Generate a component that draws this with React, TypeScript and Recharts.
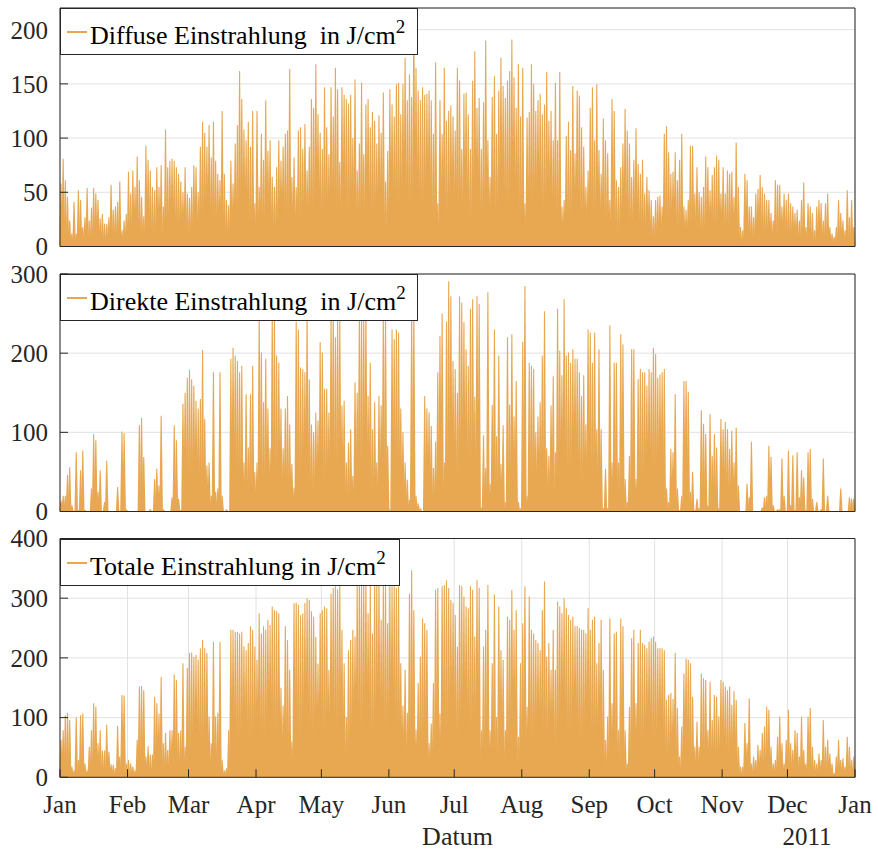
import { BarChart, Bar, XAxis, YAxis, CartesianGrid, Legend } from 'recharts'

// ─── data (daily peak of the hourly values, J/cm², 2011) ──────────────

const MONTH_STARTS = [0, 31, 59, 90, 120, 151, 181, 212, 243, 273, 304, 334, 365]
const MONTH_LABELS = ['Jan', 'Feb', 'Mar', 'Apr', 'May', 'Jun', 'Jul', 'Aug', 'Sep', 'Oct', 'Nov', 'Dec', 'Jan']

const DIFFUSE = [
  58, 81, 61, 46, 24, 12, 41, 12, 52, 43, 18, 27, 54, 24, 36, 54, 49, 43, 26, 30, 21, 21, 27, 57, 34, 37, 41, 60, 15, 24, 30,
  69, 49, 70, 55, 83, 61, 46, 28, 93, 80, 70, 55, 52, 73, 55, 75, 37, 108, 73, 79, 81, 79, 73, 67, 60, 50, 73, 49,
  45, 55, 75, 73, 50, 92, 115, 105, 92, 112, 82, 115, 79, 67, 61, 125, 67, 43, 38, 79, 58, 95, 112, 162, 136, 108, 98, 115, 92, 125, 40,
  125, 55, 104, 80, 135, 88, 98, 64, 55, 73, 98, 79, 92, 104, 107, 164, 64, 82, 55, 107, 110, 90, 113, 70, 92, 136, 128, 168, 122, 105,
  90, 147, 110, 85, 147, 120, 165, 145, 78, 147, 140, 136, 132, 140, 100, 154, 70, 95, 151, 85, 131, 136, 110, 124, 116, 95, 121, 105, 142, 60, 88,
  145, 131, 120, 150, 151, 122, 150, 174, 135, 159, 138, 220, 165, 144, 135, 147, 140, 141, 144, 135, 104, 170, 40, 135, 104, 165, 116, 125, 130, 120,
  107, 165, 153, 90, 141, 142, 122, 90, 153, 180, 128, 137, 90, 133, 190, 98, 64, 138, 157, 104, 144, 174, 148, 137, 153, 162, 191, 156, 128, 168, 120,
  165, 40, 119, 124, 168, 150, 125, 135, 141, 122, 131, 161, 116, 125, 98, 151, 98, 161, 37, 43, 102, 115, 89, 148, 86, 144, 139, 110, 92, 55, 70,
  128, 147, 98, 150, 89, 67, 118, 98, 86, 43, 136, 125, 61, 55, 73, 95, 127, 107, 95, 64, 80, 109, 76, 67, 80, 49, 64, 52, 43, 28,
  43, 46, 47, 37, 104, 111, 87, 67, 69, 87, 61, 80, 104, 37, 34, 43, 93, 93, 49, 73, 50, 46, 55, 83, 73, 52, 66, 73, 84, 80, 49,
  73, 49, 70, 67, 69, 46, 96, 55, 18, 15, 67, 61, 37, 37, 27, 49, 53, 66, 55, 49, 43, 43, 31, 24, 61, 57, 57, 37, 49, 43,
  49, 40, 37, 31, 34, 24, 43, 59, 18, 40, 37, 31, 15, 37, 43, 40, 24, 40, 49, 18, 12, 9, 18, 43, 31, 24, 15, 52, 27, 43, 18,
]

const DIRECT = [
  14, 20, 20, 46, 56, 8, 0, 75, 2, 52, 77, 2, 0, 0, 29, 98, 90, 25, 52, 0, 12, 64, 0, 0, 0, 0, 31, 0, 101, 99, 3,
  0, 0, 0, 0, 0, 109, 118, 69, 0, 0, 3, 0, 41, 54, 33, 121, 3, 0, 0, 0, 18, 109, 90, 16, 2, 136, 150, 169,
  179, 167, 159, 140, 130, 142, 204, 117, 58, 62, 20, 176, 25, 29, 176, 20, 0, 3, 0, 193, 207, 197, 190, 176, 184, 62, 148, 81, 148, 184, 50,
  62, 250, 201, 138, 193, 130, 80, 252, 248, 197, 188, 130, 80, 130, 146, 110, 60, 30, 240, 230, 182, 180, 176, 255, 167, 110, 100, 125, 115, 214,
  201, 155, 155, 125, 250, 258, 220, 250, 246, 134, 140, 62, 87, 104, 45, 163, 150, 255, 250, 248, 260, 146, 188, 104, 138, 62, 146, 134, 252, 250, 83,
  3, 230, 218, 230, 226, 130, 100, 62, 40, 15, 250, 255, 20, 10, 4, 0, 146, 130, 125, 108, 55, 88, 176, 222, 250, 62, 240, 291, 272, 190,
  180, 150, 272, 264, 239, 205, 184, 256, 268, 145, 272, 262, 5, 96, 55, 277, 35, 135, 230, 95, 197, 60, 109, 12, 220, 135, 224, 120, 165, 12, 4,
  214, 285, 20, 188, 184, 180, 100, 120, 138, 197, 253, 80, 70, 134, 171, 75, 256, 203, 172, 268, 197, 201, 188, 205, 193, 193, 176, 146, 172, 110, 230,
  226, 188, 226, 104, 205, 104, 4, 54, 4, 235, 62, 188, 188, 62, 224, 211, 41, 12, 70, 205, 205, 41, 167, 180, 176, 176, 159, 180, 176, 207,
  199, 169, 173, 176, 180, 29, 12, 79, 75, 148, 29, 2, 20, 165, 165, 151, 25, 50, 2, 16, 4, 128, 111, 98, 8, 123, 70, 98, 81, 4, 117,
  104, 113, 104, 79, 102, 62, 106, 33, 0, 0, 0, 35, 18, 88, 0, 0, 0, 0, 5, 18, 20, 83, 69, 8, 0, 3, 3, 67, 20, 0,
  77, 8, 71, 2, 75, 18, 52, 43, 2, 75, 79, 16, 0, 12, 0, 3, 67, 0, 20, 0, 0, 0, 0, 0, 29, 0, 0, 0, 18, 16, 16,
]

const TOTAL = [
  63, 79, 104, 108, 96, 18, 12, 100, 29, 104, 107, 23, 12, 51, 79, 124, 118, 57, 79, 45, 45, 88, 43, 22, 21, 15, 86, 35, 138, 137, 23,
  29, 23, 18, 12, 63, 152, 153, 146, 35, 52, 38, 38, 135, 124, 107, 168, 57, 74, 46, 79, 79, 172, 163, 74, 79, 191, 51, 183,
  208, 209, 202, 205, 197, 216, 230, 216, 208, 102, 57, 227, 102, 108, 227, 29, 12, 15, 79, 247, 247, 244, 244, 241, 244, 219, 213, 225, 253, 247, 219,
  197, 275, 241, 253, 247, 264, 255, 286, 280, 278, 275, 150, 120, 253, 230, 180, 60, 292, 293, 289, 272, 275, 292, 300, 297, 278, 269, 235, 190, 275,
  280, 286, 283, 180, 308, 317, 320, 315, 322, 247, 191, 101, 213, 230, 247, 236, 326, 330, 324, 328, 332, 275, 326, 241, 329, 324, 331, 264, 327, 325, 258,
  320, 320, 320, 317, 320, 191, 120, 180, 108, 308, 347, 280, 80, 158, 202, 266, 258, 247, 57, 90, 158, 314, 317, 107, 320, 322, 330, 317, 297, 292,
  272, 219, 322, 320, 303, 286, 283, 320, 314, 236, 330, 317, 79, 219, 247, 322, 79, 191, 306, 101, 286, 213, 197, 79, 269, 264, 314, 247, 280, 68, 191,
  258, 320, 118, 303, 247, 241, 230, 225, 213, 280, 328, 202, 225, 180, 247, 180, 294, 286, 275, 300, 283, 272, 264, 269, 253, 253, 250, 247, 247, 241, 283,
  247, 264, 269, 191, 225, 264, 180, 63, 102, 266, 124, 241, 244, 79, 266, 253, 79, 23, 118, 233, 247, 124, 225, 247, 225, 222, 216, 227, 233, 236,
  227, 216, 216, 216, 213, 130, 138, 141, 131, 208, 116, 35, 85, 174, 199, 197, 191, 135, 51, 93, 51, 174, 166, 163, 79, 160, 96, 138, 135, 102, 163,
  160, 152, 146, 152, 121, 144, 130, 51, 18, 18, 91, 57, 132, 23, 35, 29, 54, 46, 74, 85, 118, 113, 51, 23, 29, 68, 102, 57, 23, 63,
  113, 57, 46, 79, 74, 35, 102, 46, 23, 102, 116, 51, 29, 23, 40, 29, 96, 51, 63, 40, 23, 7, 35, 63, 29, 32, 18, 68, 51, 29, 35,
]

const DIFFUSE_TICKS = [0, 50, 100, 150, 200]
const DIRECT_TICKS = [0, 100, 200, 300]
const TOTAL_TICKS = [0, 100, 200, 300, 400]

// ─── style ────────────────────────────────────────────────────────────

const ORANGE = '#E8A852'
const AXIS = '#262626'
const GRID = '#e2e2e2'
const FONT = '"Liberation Serif", "Times New Roman", serif'

const monthLabel = (v: number) => MONTH_LABELS[MONTH_STARTS.indexOf(v)] ?? ''

// one day = one spike, wide at the foot (solid bottom), narrow at the peak
function Spike(props: any) {
  const { x, y, width, height, fill } = props
  if (!height || height <= 0) return null
  const cx = x + width / 2
  const foot = width * 0.9
  const tip = width * 0.28
  const y0 = y + height
  return <path d={`M${cx - foot},${y0}L${cx - tip},${y}L${cx + tip},${y}L${cx + foot},${y0}Z`} fill={fill} />
}

function LegendBox({ text, width }: { text: string; width: number }) {
  return (
    <div style={{
      position: 'relative', width, height: 47, boxSizing: 'border-box',
      border: `1px solid ${AXIS}`, background: '#fff', fontFamily: FONT, color: '#000',
    }}>
      <div style={{ position: 'absolute', left: 6, top: 22, width: 20, height: 2, background: ORANGE }} />
      <div style={{ position: 'absolute', left: 29, top: 14, fontSize: 26, lineHeight: '26px', whiteSpace: 'pre' }}>
        {text}<span style={{ fontSize: 19, position: 'relative', top: -11 }}>2</span>
      </div>
    </div>
  )
}

interface PanelProps {
  values: number[]
  max: number
  yTicks: number[]
  legend: string
  legendWidth: number
  top: number
  height: number
  plotTop: number
  plotBottom: number
  showX?: boolean
}

function Panel({ values, max, yTicks, legend, legendWidth, top, height, plotTop, plotBottom, showX }: PanelProps) {
  const data = values.map((v, i) => ({ day: i + 0.5, v }))
  const xAxisH = showX ? 40 : 1
  const tickFont = { fill: AXIS, fontSize: 25, fontFamily: FONT }

  return (
    <div style={{ position: 'absolute', left: 0, top }}>
      <BarChart
        width={878}
        height={height}
        data={data}
        margin={{ top: plotTop - 1, right: 22, bottom: height - plotBottom - xAxisH, left: 0 }}
        barCategoryGap={0}
      >
        <CartesianGrid stroke={GRID} strokeWidth={1} />
        <XAxis
          type="number"
          dataKey="day"
          domain={[0, 365]}
          ticks={MONTH_STARTS}
          interval={0}
          height={xAxisH}
          tickSize={-8}
          tickMargin={26}
          axisLine={{ stroke: AXIS }}
          tickLine={{ stroke: AXIS }}
          tick={showX ? tickFont : false}
          tickFormatter={monthLabel}
          label={showX ? { value: 'Datum', position: 'bottom', offset: 9, fill: AXIS, fontSize: 26, fontFamily: FONT } : undefined}
        />
        <XAxis
          xAxisId="top"
          orientation="top"
          type="number"
          domain={[0, 365]}
          ticks={MONTH_STARTS}
          interval={0}
          height={1}
          tickSize={-8}
          axisLine={{ stroke: AXIS }}
          tickLine={{ stroke: AXIS }}
          tick={false}
        />
        <YAxis
          domain={[0, max]}
          ticks={yTicks}
          interval={0}
          allowDataOverflow
          width={60}
          tickSize={-8}
          tickMargin={20}
          axisLine={{ stroke: AXIS }}
          tickLine={{ stroke: AXIS }}
          tick={tickFont}
        />
        <YAxis
          yAxisId="right"
          orientation="right"
          domain={[0, max]}
          ticks={yTicks}
          interval={0}
          width={1}
          tickSize={-8}
          axisLine={{ stroke: AXIS }}
          tickLine={{ stroke: AXIS }}
          tick={false}
        />
        <Bar dataKey="v" fill={ORANGE} barSize={2.18} shape={Spike} isAnimationActive={false} />
        <Legend
          layout="horizontal"
          verticalAlign="middle"
          align="center"
          wrapperStyle={{ left: 60, top: plotTop, width: legendWidth, height: 47 }}
          content={() => <LegendBox text={legend} width={legendWidth} />}
        />
      </BarChart>
    </div>
  )
}

// each chart box is a little taller than its plot so the edge tick labels are not cut
export default function App() {
  return (
    <div style={{ position: 'relative', width: 878, height: 851, background: '#fff' }}>
      <style>{'body{margin:0}'}</style>
      <Panel
        values={DIFFUSE} max={220} yTicks={DIFFUSE_TICKS}
        legend="Diffuse Einstrahlung  in J/cm" legendWidth={358}
        top={0} height={264} plotTop={8} plotBottom={246.5}
      />
      <Panel
        values={DIRECT} max={300} yTicks={DIRECT_TICKS}
        legend="Direkte Einstrahlung  in J/cm" legendWidth={358}
        top={254} height={274} plotTop={20} plotBottom={257.5}
      />
      <Panel
        values={TOTAL} max={400} yTicks={TOTAL_TICKS}
        legend="Totale Einstrahlung in J/cm" legendWidth={340}
        top={520} height={331} plotTop={18.5} plotBottom={257.3} showX
      />
      <div style={{
        position: 'absolute', left: 782, top: 824, width: 50, textAlign: 'center',
        fontFamily: FONT, fontSize: 25, lineHeight: '25px', color: AXIS,
      }}>
        2011
      </div>
    </div>
  )
}
